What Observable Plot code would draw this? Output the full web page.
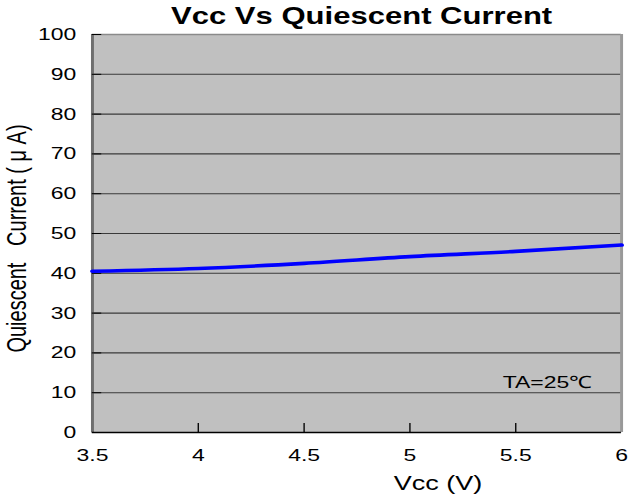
<!DOCTYPE html>
<html>
<head>
<meta charset="utf-8">
<script src="https://cdn.jsdelivr.net/npm/d3@7"></script>
<script src="https://cdn.jsdelivr.net/npm/@observablehq/plot@0.6"></script>
<style>
  html, body { margin: 0; padding: 0; background: #ffffff; }
  #chart { width: 629px; height: 498px; overflow: hidden; }
</style>
</head>
<body>
<div id="chart"></div>
<script>
// ---- data ----
const vcc = [3.5, 4, 4.5, 5, 5.5, 6];
const current = [40.5, 41.2, 42.5, 44.2, 45.5, 47.1];
const xTicks = [3.5, 4, 4.5, 5, 5.5, 6];
const xTickLabels = ["3.5", "4", "4.5", "5", "5.5", "6"];
const yTicks = [0, 10, 20, 30, 40, 50, 60, 70, 80, 90, 100];
const gridValues = [10, 20, 30, 40, 50, 60, 70, 80, 90];
const titleText = "Vcc Vs Quiescent Current";
const xLabel = "Vcc (V)";
const yLabel = "Quiescent\u00a0\u00a0\u00a0Current (\u00a0\u03bc\u00a0A)";
const note = "TA=25\u2103";

const data = vcc.map((v, i) => ({vcc: v, current: current[i]}));

// the reference image is stretched horizontally; draw at a logical width and stretch
const stretch = 1.35;
const W = 629, H = 498;
const LW = Math.round(W / stretch);

const font = "'Liberation Sans', Arial, Helvetica, sans-serif";

const chart = Plot.plot({
  width: LW,
  height: H,
  marginLeft: 68,
  marginRight: 6,
  marginTop: 34,
  marginBottom: 66,
  style: {fontFamily: font, background: "#ffffff", color: "#000"},
  x: {domain: [3.5, 6], ticks: xTicks, label: null},
  y: {domain: [0, 100], ticks: yTicks, label: null},
  marks: [
    Plot.frame({fill: "#c0c0c0", stroke: null}),
    Plot.ruleY(gridValues, {stroke: "#3a3a3a", strokeWidth: 1.1}),
    Plot.ruleY([100], {stroke: "#8a8a8a", strokeWidth: 1.6}),
    Plot.ruleX([3.5], {stroke: "#6e6e6e", strokeWidth: 2.2}),
    Plot.ruleX([6], {stroke: "#999999", strokeWidth: 2.2}),
    Plot.ruleY([0], {stroke: "#000", strokeWidth: 1.6}),
    // inner ticks
    Plot.axisY({anchor: "left", ticks: yTicks, tickSize: 7, text: null, label: null, dx: 7, stroke: "#000"}),
    Plot.axisX({anchor: "bottom", ticks: xTicks.slice(1, -1), tickSize: 9, text: null, label: null, dy: -9, stroke: "#000"}),
    // tick labels
    Plot.axisY({anchor: "left", ticks: yTicks, tickSize: 0, tickPadding: 12, fontSize: 17, label: null, fill: "#000"}),
    Plot.axisX({anchor: "bottom", ticks: xTicks, tickSize: 0, tickPadding: 16, fontSize: 17, label: null,
      tickFormat: (d) => xTickLabels[xTicks.indexOf(d)], fill: "#000"}),
    // the curve
    Plot.line(data, {x: "vcc", y: "current", stroke: "#0000ff", strokeWidth: 3.6, curve: "monotone-x"}),
    // texts
    Plot.text([titleText], {frameAnchor: "top", dx: 3.4, dy: -11, lineAnchor: "bottom",
      fontSize: 23, fontWeight: "bold", fill: "#000"}),
    Plot.text([xLabel], {frameAnchor: "bottom", dx: 60, dy: 57, lineAnchor: "bottom", fontSize: 20, fill: "#000"}),
    Plot.text([yLabel], {frameAnchor: "left", rotate: -90, dx: -56, dy: 5, textAnchor: "middle",
      lineAnchor: "middle", fontSize: 20, fill: "#000"}),
    Plot.text([note], {frameAnchor: "bottom-right", dx: -22, dy: -45, textAnchor: "end", lineAnchor: "bottom",
      fontSize: 17, fill: "#000"})
  ]
});

chart.setAttribute("viewBox", `0 0 ${LW} ${H}`);
chart.setAttribute("preserveAspectRatio", "none");
chart.setAttribute("width", W);
chart.setAttribute("height", H);
chart.style.maxWidth = "none";
chart.style.width = W + "px";
chart.style.height = H + "px";
chart.style.display = "block";
document.getElementById("chart").appendChild(chart);
</script>
</body>
</html>
